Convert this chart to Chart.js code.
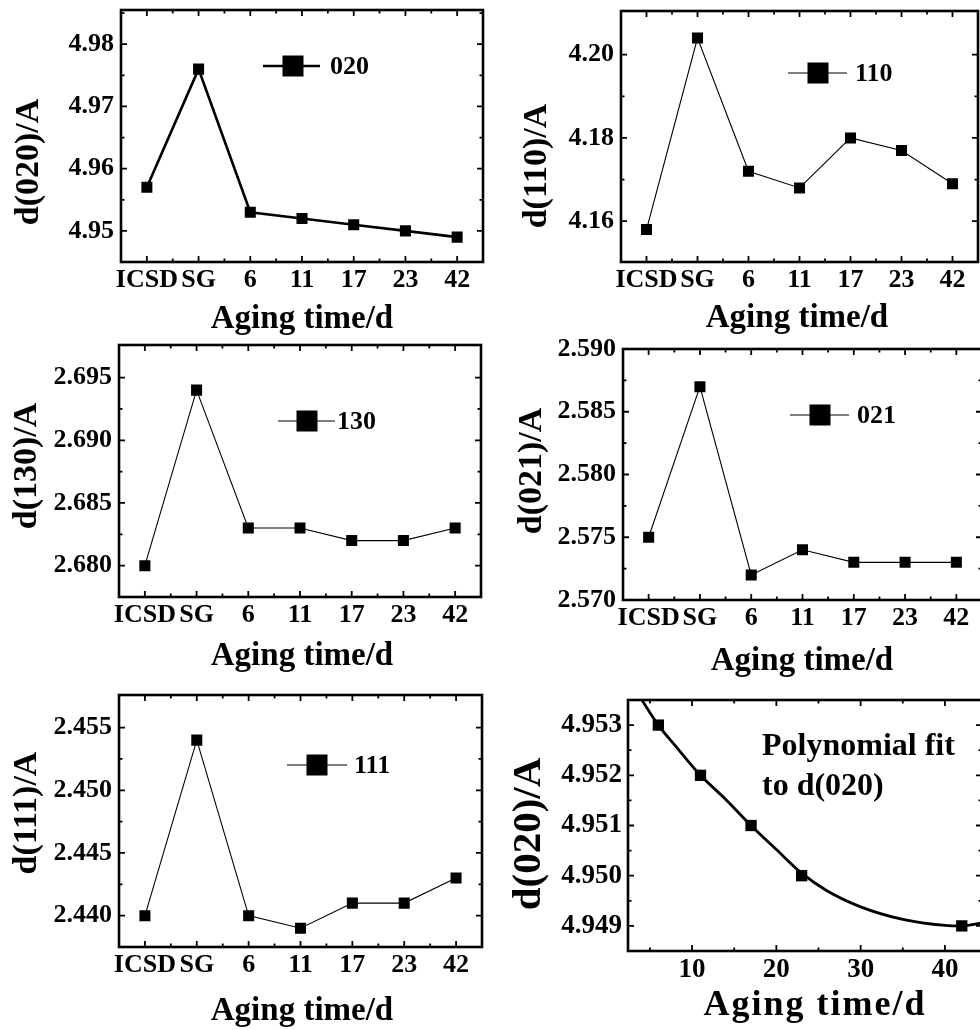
<!DOCTYPE html>
<html>
<head>
<meta charset="utf-8">
<script src="https://cdn.jsdelivr.net/npm/chart.js@4.4.1/dist/chart.umd.min.js"></script>
<style>
  html, body { margin: 0; padding: 0; background: #fff; overflow: hidden; width: 980px; height: 1030px; }
  canvas { position: absolute; }
</style>
</head>
<body>
<canvas id="p020"></canvas>
<canvas id="p110"></canvas>
<canvas id="p130"></canvas>
<canvas id="p021"></canvas>
<canvas id="p111"></canvas>
<canvas id="pfit"></canvas>
<script>
// samples along the x axis
const agingLabels = ['ICSD', 'SG', '6', '11', '17', '23', '42'];

// d-spacings (A)
const d020 = [4.957, 4.976, 4.953, 4.952, 4.951, 4.950, 4.949];
const d110 = [4.158, 4.204, 4.172, 4.168, 4.180, 4.177, 4.169];
const d130 = [2.680, 2.694, 2.683, 2.683, 2.682, 2.682, 2.683];
const d021 = [2.575, 2.587, 2.572, 2.574, 2.573, 2.573, 2.573];
const d111 = [2.440, 2.454, 2.440, 2.439, 2.441, 2.441, 2.443];

const d020Ticks = [4.95, 4.96, 4.97, 4.98];
const d110Ticks = [4.16, 4.18, 4.20];
const d130Ticks = [2.680, 2.685, 2.690, 2.695];
const d021Ticks = [2.570, 2.575, 2.580, 2.585, 2.590];
const d111Ticks = [2.440, 2.445, 2.450, 2.455];

// fit panel: aged samples and the fitted curve
const fitDays = [6, 11, 17, 23, 42];
const fitD020 = [4.953, 4.952, 4.951, 4.950, 4.949];
const curveDays = [4.0, 6, 8, 11, 14, 17, 20, 23, 26, 30, 35, 40, 42, 44.4];
const curveD020 = [4.95351, 4.95300, 4.95259, 4.95200, 4.95152, 4.95100, 4.95052, 4.95005, 4.94970, 4.94938, 4.94913, 4.94901, 4.94900, 4.94906];
const fitDayTicks = [10, 20, 30, 40];
const fitD020Ticks = [4.949, 4.950, 4.951, 4.952, 4.953];

const SERIF = "'Liberation Serif', 'Times New Roman', serif";

// frame, mirrored ticks, inner legend and axis titles
const frame = {
  id: 'frame',
  afterDraw(chart, args, o) {
    const ctx = chart.ctx;
    const a = chart.chartArea;
    const xs = chart.scales.x, ys = chart.scales.y;
    const ox = o.origin[0], oy = o.origin[1];
    ctx.save();
    ctx.strokeStyle = '#000';
    ctx.fillStyle = '#000';

    // half-way ticks between the labelled ones, kept inside the box
    const minors = (p, lo, hi) => {
      const out = [];
      if (p.length < 2) return out;
      const step = p[1] - p[0];
      for (let k = -1; k <= p.length; k++) out.push(p[0] + step / 2 + k * step);
      return out.filter(m => m > Math.min(lo, hi) + 3 && m < Math.max(lo, hi) - 3);
    };
    const xp = xs.ticks.map((t, i) => xs.getPixelForTick(i));
    const yp = ys.ticks.map((t, i) => ys.getPixelForTick(i));
    ctx.lineWidth = 1.8;
    ctx.beginPath();
    const xt = (px, len) => {
      ctx.moveTo(px, a.bottom); ctx.lineTo(px, a.bottom - len);
      ctx.moveTo(px, a.top); ctx.lineTo(px, a.top + len);
    };
    const yt = (py, len) => {
      ctx.moveTo(a.left, py); ctx.lineTo(a.left + len, py);
      ctx.moveTo(a.right, py); ctx.lineTo(a.right - len, py);
    };
    xp.forEach(p => xt(p, 6));
    minors(xp, a.left, a.right).forEach(p => xt(p, 3.5));
    yp.forEach(p => yt(p, 6));
    minors(yp, a.top, a.bottom).forEach(p => yt(p, 3.5));
    ctx.stroke();

    ctx.lineWidth = 2.6;
    ctx.strokeRect(a.left, a.top, a.right - a.left, a.bottom - a.top);

    if (o.legend) {
      const g = o.legend;
      ctx.lineWidth = g.lw;
      ctx.beginPath();
      ctx.moveTo(g.x1 - ox, g.y - oy);
      ctx.lineTo(g.x2 - ox, g.y - oy);
      ctx.stroke();
      ctx.fillRect(g.sq - ox - 10.5, g.y - oy - 10.5, 21, 21);
      ctx.font = 'bold 26px ' + SERIF;
      ctx.textAlign = 'left';
      ctx.textBaseline = 'middle';
      ctx.fillText(g.label, g.tx - ox, g.y - oy + 1);
    }

    if (o.note) {
      ctx.font = 'bold ' + o.note.size + 'px ' + SERIF;
      ctx.textAlign = 'left';
      ctx.textBaseline = 'alphabetic';
      o.note.lines.forEach((s, i) => ctx.fillText(s, o.note.x - ox, o.note.y[i] - oy));
    }

    const xT = o.xTitle;
    ctx.font = 'bold ' + xT.size + 'px ' + SERIF;
    ctx.letterSpacing = (xT.spacing || 0) + 'px';
    ctx.textAlign = 'center';
    ctx.textBaseline = 'alphabetic';
    ctx.fillText(xT.text, xT.x - ox, xT.y - oy);
    ctx.letterSpacing = '0px';

    const yT = o.yTitle;
    ctx.translate(yT.x - ox, yT.y - oy);
    ctx.rotate(-Math.PI / 2);
    ctx.font = 'bold ' + yT.size + 'px ' + SERIF;
    ctx.textAlign = 'center';
    ctx.textBaseline = 'middle';
    ctx.fillText(yT.text, 0, 0);
    ctx.restore();
  }
};

function placeCanvas(id, g) {
  const cv = document.getElementById(id);
  cv.width = g.w; cv.height = g.h;
  cv.style.width = g.w + 'px'; cv.style.height = g.h + 'px';
  cv.style.left = g.ox + 'px'; cv.style.top = g.oy + 'px';
  return cv;
}

function tickFont(size) {
  return { family: SERIF, weight: 'bold', size: size };
}

// one aging panel: box = [left, top, right, bottom] in page pixels
function agingPanel(id, g, box, values, yTicks, yMin, yMax, dec, lineWidth, legend, yTitle, xTitle) {
  const cv = placeCanvas(id, g);
  return new Chart(cv, {
    type: 'line',
    data: {
      labels: agingLabels,
      datasets: [{
        data: values,
        borderColor: '#000',
        backgroundColor: '#000',
        borderWidth: lineWidth,
        pointStyle: 'rect',
        pointRadius: 7.8,
        pointBorderWidth: 0,
        tension: 0
      }]
    },
    options: {
      responsive: false,
      animation: false,
      events: [],
      layout: { autoPadding: false, padding: { top: box[1] - g.oy, right: g.ox + g.w - box[2], left: 0, bottom: 0 } },
      plugins: {
        legend: { display: false },
        tooltip: { enabled: false },
        frame: { origin: [g.ox, g.oy], legend: legend, yTitle: yTitle, xTitle: xTitle }
      },
      scales: {
        x: {
          type: 'category',
          offset: true,
          grid: { display: false, drawTicks: false },
          border: { display: false },
          ticks: { color: '#000', font: tickFont(26), padding: 3, autoSkip: false, maxRotation: 0 },
          afterFit: s => { s.height = g.oy + g.h - box[3]; s.paddingLeft = 0; s.paddingRight = 0; }
        },
        y: {
          type: 'linear',
          min: yMin,
          max: yMax,
          grid: { display: false, drawTicks: false },
          border: { display: false },
          afterBuildTicks: s => { s.ticks = yTicks.map(v => ({ value: v })); },
          ticks: { color: '#000', font: tickFont(26), padding: 7, callback: v => v.toFixed(dec) },
          afterFit: s => { s.width = box[0] - g.ox; s.paddingTop = 0; s.paddingBottom = 0; }
        }
      }
    },
    plugins: [frame]
  });
}

agingPanel('p020', { ox: 0, oy: 0, w: 490, h: 340 }, [121, 10, 483, 262],
  d020, d020Ticks, 4.945, 4.9855, 2, 2.6,
  { label: '020', x1: 263, x2: 320, y: 66, sq: 293, tx: 330, lw: 2.6 },
  { text: 'd(020)/A', x: 29, y: 162, size: 34 },
  { text: 'Aging time/d', x: 302, y: 328, size: 33 });

agingPanel('p110', { ox: 490, oy: 0, w: 490, h: 340 }, [621, 11, 978, 262],
  d110, d110Ticks, 4.1502, 4.2105, 2, 1.1,
  { label: '110', x1: 788, x2: 847, y: 73, sq: 818, tx: 855, lw: 1.1 },
  { text: 'd(110)/A', x: 537, y: 166, size: 34 },
  { text: 'Aging time/d', x: 797, y: 327, size: 33 });

agingPanel('p130', { ox: 0, oy: 332, w: 490, h: 350 }, [119, 345, 481, 597],
  d130, d130Ticks, 2.6775, 2.6976, 3, 1.1,
  { label: '130', x1: 278, x2: 335, y: 421, sq: 307, tx: 337, lw: 1.1 },
  { text: 'd(130)/A', x: 27, y: 466, size: 34 },
  { text: 'Aging time/d', x: 302, y: 665, size: 33 });

agingPanel('p021', { ox: 490, oy: 332, w: 500, h: 350 }, [623, 349, 982, 600],
  d021, d021Ticks, 2.570, 2.590, 3, 1.1,
  { label: '021', x1: 790, x2: 849, y: 415, sq: 820, tx: 857, lw: 1.1 },
  { text: 'd(021)/A', x: 532, y: 471, size: 34 },
  { text: 'Aging time/d', x: 802, y: 670, size: 33 });

agingPanel('p111', { ox: 0, oy: 682, w: 490, h: 348 }, [119, 695, 482, 947],
  d111, d111Ticks, 2.4375, 2.4576, 3, 1.1,
  { label: '111', x1: 287, x2: 347, y: 765, sq: 317, tx: 354, lw: 1.1 },
  { text: 'd(111)/A', x: 27, y: 813, size: 34 },
  { text: 'Aging time/d', x: 302, y: 1020, size: 33 });

// Polynomial fit panel
const fitGeo = { ox: 490, oy: 682, w: 500, h: 348 };
const fitBox = [628, 700, 982, 951];
const pfit = new Chart(placeCanvas('pfit', fitGeo), {
  type: 'scatter',
  data: {
    datasets: [
      {
        data: fitDays.map((d, i) => ({ x: d, y: fitD020[i] })),
        backgroundColor: '#000',
        borderColor: '#000',
        pointStyle: 'rect',
        pointRadius: 8,
        pointBorderWidth: 0,
        showLine: false
      },
      {
        data: curveDays.map((d, i) => ({ x: d, y: curveD020[i] })),
        borderColor: '#000',
        borderWidth: 2.8,
        pointRadius: 0,
        showLine: true,
        cubicInterpolationMode: 'monotone'
      }
    ]
  },
  options: {
    responsive: false,
    animation: false,
    events: [],
    layout: { autoPadding: false, padding: { top: fitBox[1] - fitGeo.oy, right: fitGeo.ox + fitGeo.w - fitBox[2], left: 0, bottom: 0 } },
    plugins: {
      legend: { display: false },
      tooltip: { enabled: false },
      frame: {
        origin: [fitGeo.ox, fitGeo.oy],
        note: { lines: ['Polynomial fit', 'to d(020)'], x: 762, y: [755, 795], size: 32 },
        yTitle: { text: 'd(020)/A', x: 529, y: 834, size: 41 },
        xTitle: { text: 'Aging time/d', x: 815, y: 1015, size: 36, spacing: 2 }
      }
    },
    scales: {
      x: {
        type: 'linear',
        min: 2.4,
        max: 44.4,
        grid: { display: false, drawTicks: false },
        border: { display: false },
        afterBuildTicks: s => { s.ticks = fitDayTicks.map(v => ({ value: v })); },
        ticks: { color: '#000', font: tickFont(27), padding: 3, maxRotation: 0, callback: v => String(v) },
        afterFit: s => { s.height = fitGeo.oy + fitGeo.h - fitBox[3]; s.paddingLeft = 0; s.paddingRight = 0; }
      },
      y: {
        type: 'linear',
        min: 4.9485,
        max: 4.9535,
        grid: { display: false, drawTicks: false },
        border: { display: false },
        afterBuildTicks: s => { s.ticks = fitD020Ticks.map(v => ({ value: v })); },
        ticks: { color: '#000', font: tickFont(27), padding: 6, callback: v => v.toFixed(3) },
        afterFit: s => { s.width = fitBox[0] - fitGeo.ox; s.paddingTop = 0; s.paddingBottom = 0; }
      }
    }
  },
  plugins: [frame]
});
</script>
</body>
</html>
